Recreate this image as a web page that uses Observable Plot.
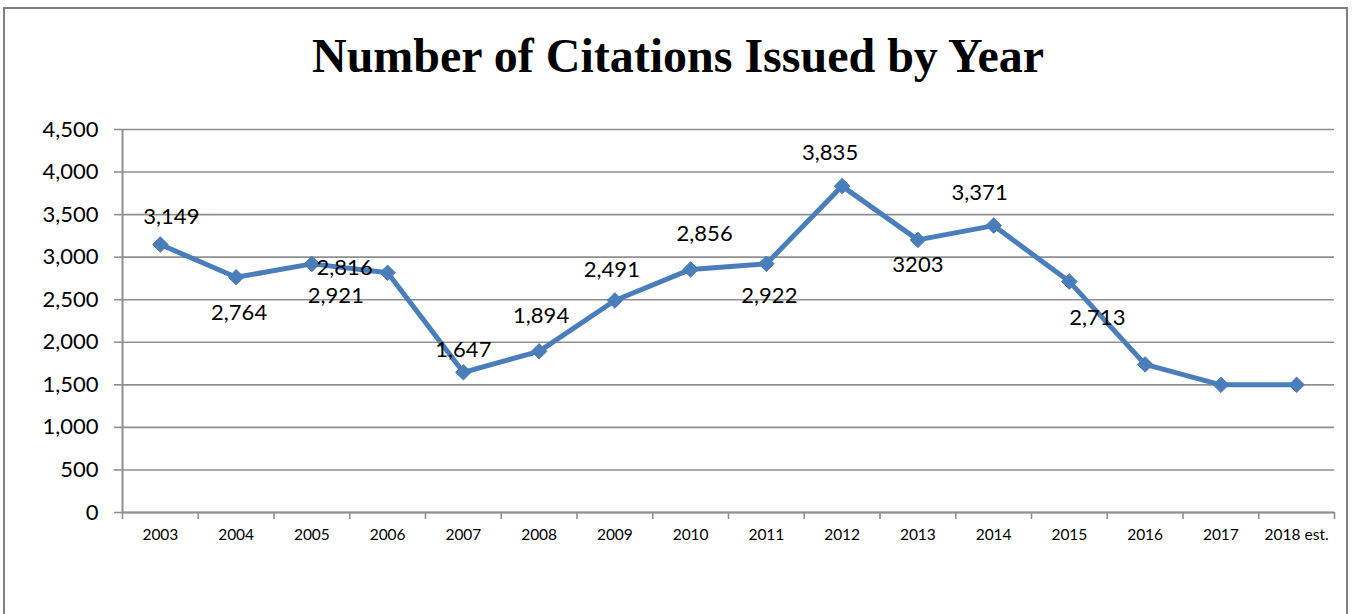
<!DOCTYPE html>
<html>
<head>
<meta charset="utf-8">
<script src="https://cdn.jsdelivr.net/npm/d3@7"></script>
<script src="https://cdn.jsdelivr.net/npm/@observablehq/plot@0.6"></script>
<style>
  html, body { margin: 0; padding: 0; background: #fff; }
  body { width: 1356px; height: 614px; position: relative; overflow: hidden; }
  #frame { position: absolute; left: 3px; top: 7px; width: 1345px; height: 640px; border: 2px solid #808080; box-sizing: border-box; }
  #title { position: absolute; left: 0; top: 27px; width: 1356px; text-align: center;
           font-family: "Liberation Serif", serif; font-weight: bold; font-size: 48px; color: #000; line-height: 58px; }
  #chart { position: absolute; left: 0; top: 100px; }
</style>
</head>
<body>
<div id="frame"></div>
<div id="title">Number of Citations Issued by Year</div>
<div id="chart"></div>
<script>
const years = ["2003","2004","2005","2006","2007","2008","2009","2010","2011","2012","2013","2014","2015","2016","2017","2018 est."];
const citations = [3149, 2764, 2921, 2816, 1647, 1894, 2491, 2856, 2922, 3835, 3203, 3371, 2713, 1740, 1500, 1500];
const labelTexts = ["3,149","2,764","2,921","2,816","1,647","1,894","2,491","2,856","2,922","3,835","3203","3,371","2,713"];
const yTicks = [0, 500, 1000, 1500, 2000, 2500, 3000, 3500, 4000, 4500];

// label placement offsets (px) relative to each point
const labelOffsets = [[11,-28],[3,36],[24,32],[-43,-5],[0,-22],[2,-35],[-3,-31],[14,-35],[3,32],[-12,-33],[0,25],[-14,-33],[28,36]];

const data = years.map((y, i) => ({i, pos: i + 0.5, year: y, value: citations[i]}));
const gray = "#8f8f8f";
const blue = "#4a7ebb";

const labelMarks = labelTexts.map((t, i) =>
  Plot.text([{pos: i + 0.5, value: citations[i], t}], {
    x: "pos", y: "value", text: "t",
    dx: labelOffsets[i][0], dy: labelOffsets[i][1],
    fontSize: 22, fill: "#000", fontFamily: "Lato"
  })
);

const chart = Plot.plot({
  width: 1356,
  height: 470,
  marginLeft: 122,
  marginRight: 22,
  marginTop: 29,
  marginBottom: 58,
  style: {fontFamily: "Lato", background: "transparent", color: "#000"},
  x: {type: "linear", domain: [0, years.length], axis: null, label: null},
  y: {domain: [0, 4500], axis: null, label: null},
  marks: [
    Plot.gridY(yTicks, {stroke: gray, strokeOpacity: 1, strokeWidth: 1.6}),
    Plot.axisY(yTicks, {label: null, tickSize: 8, tickPadding: 16, tickFormat: d3.format(","), fontSize: 22, stroke: gray, strokeWidth: 1.6, fill: "#000"}),
    Plot.ruleX([0], {y1: 0, y2: 4500, stroke: gray, strokeWidth: 2}),
    Plot.ruleY([0], {stroke: gray, strokeWidth: 2}),
    Plot.axisX(d3.range(years.length + 1), {label: null, tickSize: 7, tickFormat: () => "", stroke: gray, strokeWidth: 1.6}),
    Plot.axisX(d3.range(years.length).map(i => i + 0.5), {label: null, tickSize: 0, tickPadding: 16, tickFormat: d => years[Math.floor(d)], fontSize: 15.5, fill: "#000"}),
    Plot.line(data, {x: "pos", y: "value", stroke: blue, strokeWidth: 5, strokeLinejoin: "round"}),
    Plot.dot(data, {x: "pos", y: "value", symbol: "diamond2", r: 7, fill: blue, stroke: blue, strokeWidth: 1}),
    ...labelMarks
  ]
});
document.getElementById("chart").appendChild(chart);
</script>
</body>
</html>
